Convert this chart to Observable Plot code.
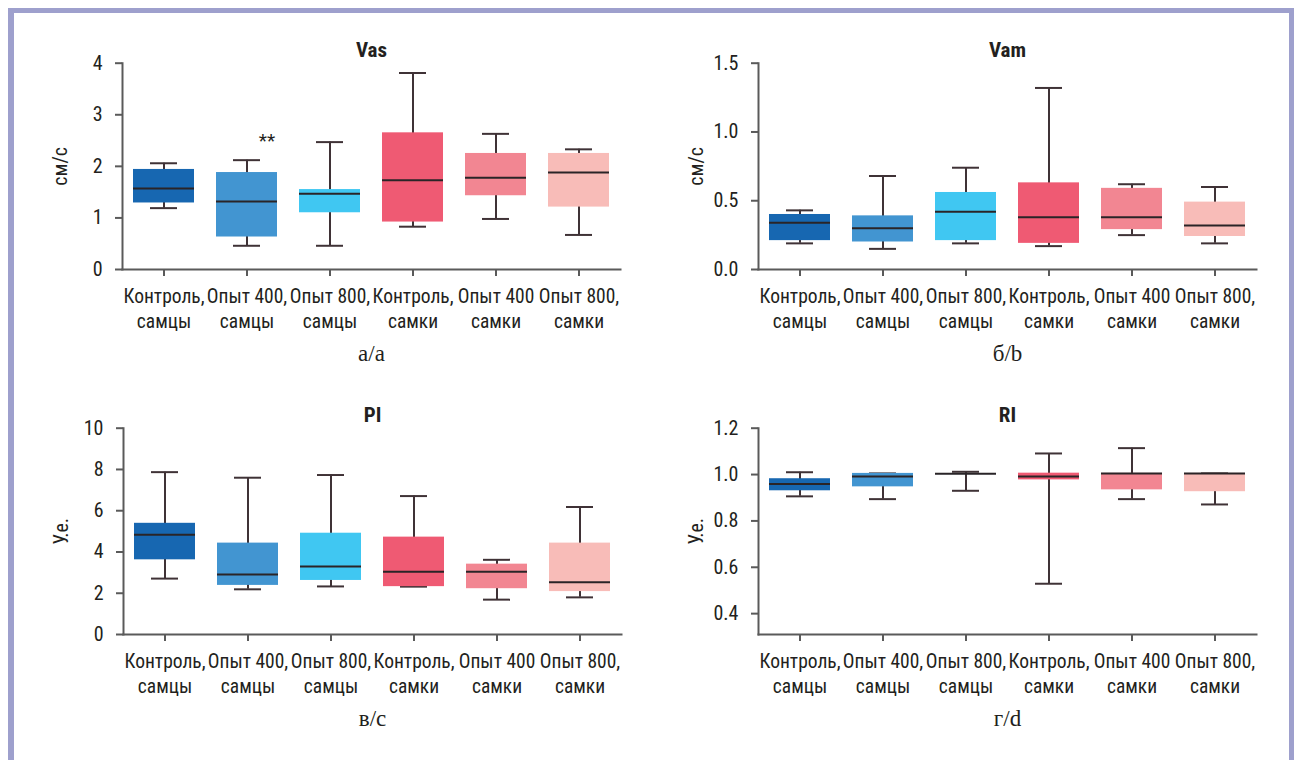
<!DOCTYPE html>
<html>
<head>
<meta charset="utf-8">
<script src="https://cdn.jsdelivr.net/npm/d3@7"></script>
<script src="https://cdn.jsdelivr.net/npm/@observablehq/plot@0.6"></script>
<style>
  html, body { margin: 0; padding: 0; background: #ffffff; }
  #page { position: relative; width: 1297px; height: 760px; overflow: hidden; background: #fff; }
  #border { position: absolute; left: 8px; top: 8px; width: 1275px; height: 760px;
            border-top: 5px solid #9ea0cd; border-left: 6px solid #9ea0cd; border-right: 5px solid #9ea0cd; box-sizing: content-box; }
  .panel { position: absolute; }
</style>
</head>
<body>
<div id="page">
  <div id="border"></div>
  <div class="panel" id="pa" style="left:0px; top:30px;"></div>
  <div class="panel" id="pb" style="left:636px; top:30px;"></div>
  <div class="panel" id="pc" style="left:1px; top:395.3px;"></div>
  <div class="panel" id="pd" style="left:636px; top:395.3px;"></div>
</div>
<script>
// ---- Data ----
const groups = ["Контроль,\nсамцы", "Опыт 400,\nсамцы", "Опыт 800,\nсамцы", "Контроль,\nсамки", "Опыт 400\nсамки", "Опыт 800,\nсамки"];
const groupColors = ["#1767b1", "#4295d1", "#40c7f2", "#ef5a73", "#f28692", "#f8bcb8"];

const vasMin    = [1.19, 0.46, 0.46, 0.83, 0.98, 0.67];
const vasQ1     = [1.29, 0.63, 1.10, 0.92, 1.43, 1.21];
const vasMedian = [1.57, 1.32, 1.47, 1.73, 1.78, 1.88];
const vasQ3     = [1.94, 1.88, 1.55, 2.65, 2.25, 2.25];
const vasMax    = [2.06, 2.12, 2.47, 3.81, 2.63, 2.33];
const vasNotes  = [{group: "Опыт 400,\nсамцы", y: 2.5, text: "**"}];

const vamMin    = [0.19, 0.15, 0.19, 0.17, 0.25, 0.19];
const vamQ1     = [0.21, 0.20, 0.21, 0.19, 0.29, 0.24];
const vamMedian = [0.34, 0.30, 0.42, 0.38, 0.38, 0.32];
const vamQ3     = [0.40, 0.39, 0.56, 0.63, 0.59, 0.49];
const vamMax    = [0.43, 0.68, 0.74, 1.32, 0.62, 0.60];

const piMin     = [2.71, 2.19, 2.33, 2.32, 1.69, 1.80];
const piQ1      = [3.62, 2.38, 2.62, 2.32, 2.22, 2.08];
const piMedian  = [4.83, 2.91, 3.30, 3.04, 3.04, 2.53];
const piQ3      = [5.39, 4.43, 4.91, 4.72, 3.41, 4.43];
const piMax     = [7.87, 7.60, 7.73, 6.71, 3.62, 6.18];

const riMin     = [0.906, 0.894, 0.930, 0.529, 0.894, 0.871];
const riQ1      = [0.930, 0.947, 1.000, 0.977, 0.934, 0.926];
const riMedian  = [0.959, 0.992, 1.003, 0.992, 1.005, 1.005];
const riQ3      = [0.982, 1.005, 1.003, 1.006, 1.005, 1.005];
const riMax     = [1.010, 1.005, 1.012, 1.091, 1.114, 1.005];

const vasTicks = [0, 1, 2, 3, 4];
const vamTicks = [0, 0.5, 1.0, 1.5];
const piTicks  = [0, 2, 4, 6, 8, 10];
const riTicks  = [0.4, 0.6, 0.8, 1.0, 1.2];

// ---- Drawing ----
const FONT = "'Liberation Sans Narrow', 'Roboto Condensed', 'DejaVu Sans Condensed', 'Roboto', sans-serif";
const SERIF = "'Liberation Serif', 'DejaVu Serif', serif";
const INK = "#231f20";
const AXIS = "#5a5a5a";
const WHISK = "#3f3236";

function panel({title, ylabel, domain, ticks, fmt, min, q1, med, q3, max, notes = [], caption}) {
  const rows = groups.map((g, i) => ({g, min: min[i], q1: q1[i], med: med[i], q3: q3[i], max: max[i]}));
  return Plot.plot({
    width: 640,
    height: 340,
    marginLeft: 122,
    marginRight: 20,
    marginTop: 32.7,
    marginBottom: 101,
    style: {fontFamily: FONT, fontSize: "19px", color: INK, background: "transparent"},
    x: {domain: groups, paddingInner: 0.265, paddingOuter: 0.1325, label: null, axis: null},
    y: {domain, label: null, axis: null},
    color: {domain: groups, range: groupColors},
    marks: [
      Plot.frame({anchor: "left", stroke: AXIS, strokeWidth: 2}),
      Plot.frame({anchor: "bottom", stroke: AXIS, strokeWidth: 2}),
      Plot.axisY({ticks, tickFormat: fmt, tickSize: 7, tickPadding: 13, stroke: AXIS, strokeWidth: 2,
                  fill: INK, fontSize: 20, label: ylabel, labelAnchor: "center", labelArrow: "none", labelOffset: 70}),
      Plot.axisX({tickSize: 7, tickPadding: 8, stroke: AXIS, strokeWidth: 2, fill: INK, fontSize: 19.5,
                  lineHeight: 1.3, label: null}),
      Plot.ruleX(rows, {x: "g", y1: "min", y2: "max", stroke: WHISK, strokeWidth: 2}),
      Plot.tickY(rows, {x: "g", y: "min", stroke: WHISK, strokeWidth: 2, inset: 17}),
      Plot.tickY(rows, {x: "g", y: "max", stroke: WHISK, strokeWidth: 2, inset: 17}),
      Plot.barY(rows, {x: "g", y1: "q1", y2: "q3", fill: "g"}),
      Plot.tickY(rows, {x: "g", y: "med", stroke: "#2a2427", strokeWidth: 2}),
      Plot.text(notes, {x: "group", y: "y", text: "text", dx: 20, fontSize: 19, fill: INK}),
      Plot.text([title], {frameAnchor: "top", dy: -6, lineAnchor: "bottom", fontWeight: "bold", fontSize: 21, fill: INK}),
      Plot.text([caption], {frameAnchor: "bottom", dy: 91, lineAnchor: "bottom", fontFamily: SERIF, fontSize: 23, fill: INK})
    ]
  });
}

const f0 = d3.format("d");
const f1 = d3.format(".1f");

document.getElementById("pa").append(panel({title: "Vas", ylabel: "см/с", domain: [0, 4], ticks: vasTicks, fmt: f0,
  min: vasMin, q1: vasQ1, med: vasMedian, q3: vasQ3, max: vasMax, notes: vasNotes, caption: "а/a"}));
document.getElementById("pb").append(panel({title: "Vam", ylabel: "см/с", domain: [0, 1.5], ticks: vamTicks, fmt: f1,
  min: vamMin, q1: vamQ1, med: vamMedian, q3: vamQ3, max: vamMax, caption: "б/b"}));
document.getElementById("pc").append(panel({title: "PI", ylabel: "У.е.", domain: [0, 10], ticks: piTicks, fmt: f0,
  min: piMin, q1: piQ1, med: piMedian, q3: piQ3, max: piMax, caption: "в/c"}));
document.getElementById("pd").append(panel({title: "RI", ylabel: "У.е.", domain: [0.31, 1.2], ticks: riTicks, fmt: f1,
  min: riMin, q1: riQ1, med: riMedian, q3: riQ3, max: riMax, caption: "г/d"}));
</script>
</body>
</html>
